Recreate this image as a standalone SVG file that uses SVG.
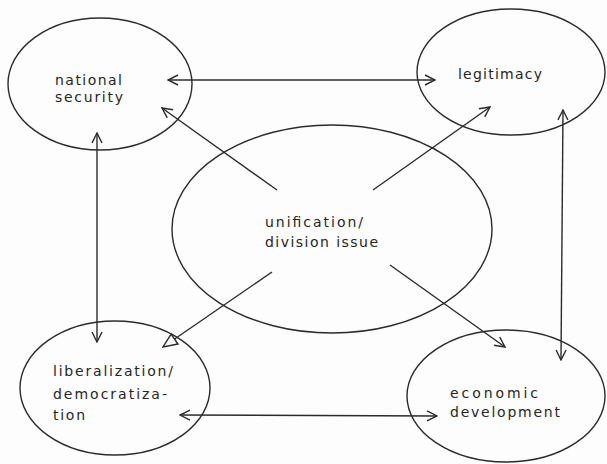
<svg xmlns="http://www.w3.org/2000/svg" width="607" height="464" viewBox="0 0 607 464">
  <style>
    .node ellipse { fill: none; stroke: #2b2b2b; stroke-width: 1.4; }
    .node text { font-family: "DejaVu Sans", "Liberation Sans", sans-serif; font-size: 14px; fill: #262626; }
    .conn { fill: none; stroke: #2b2b2b; stroke-width: 1.4; }
  </style>
  <defs>
    <marker id="open" viewBox="0 0 12 12" refX="11" refY="6" markerWidth="12" markerHeight="12" markerUnits="userSpaceOnUse" orient="auto-start-reverse">
      <path d="M1,1 L11,6 L1,11" fill="none" stroke="#2b2b2b" stroke-width="1.4"/>
    </marker>
    <marker id="tri" viewBox="0 0 16 14" refX="15" refY="7" markerWidth="16" markerHeight="14" markerUnits="userSpaceOnUse" orient="auto">
      <path d="M1,1 L15,7 L1,13 Z" fill="#fff" stroke="#2b2b2b" stroke-width="1.4"/>
    </marker>
  </defs>
  <rect x="0" y="0" width="607" height="464" fill="#fdfdfd"/>

  <g id="connectors">
    <line class="conn" x1="168" y1="80" x2="435" y2="80" marker-start="url(#open)" marker-end="url(#open)"/>
    <line class="conn" x1="97" y1="133" x2="97" y2="342" marker-start="url(#open)" marker-end="url(#open)"/>
    <line class="conn" x1="563" y1="110" x2="561" y2="360" marker-start="url(#open)" marker-end="url(#open)"/>
    <line class="conn" x1="180" y1="415" x2="437" y2="416" marker-start="url(#open)" marker-end="url(#open)"/>
    <line class="conn" x1="277" y1="190" x2="162" y2="108" marker-end="url(#open)"/>
    <line class="conn" x1="373" y1="190" x2="490" y2="107" marker-end="url(#open)"/>
    <line class="conn" x1="272" y1="272" x2="163" y2="347" marker-end="url(#tri)"/>
    <line class="conn" x1="390" y1="265" x2="505" y2="347" marker-end="url(#open)"/>
  </g>

  <g id="national-security" class="node">
    <ellipse cx="100" cy="84" rx="92" ry="66"/>
    <text x="55" y="85" textLength="67" lengthAdjust="spacing">national</text>
    <text x="55" y="102" textLength="68" lengthAdjust="spacing">security</text>
  </g>

  <g id="legitimacy" class="node">
    <ellipse cx="511" cy="72" rx="94" ry="63"/>
    <text x="458" y="79" textLength="84" lengthAdjust="spacing">legitimacy</text>
  </g>

  <g id="unification" class="node">
    <ellipse cx="332" cy="229" rx="160" ry="104"/>
    <text x="265" y="227" textLength="98" lengthAdjust="spacing">unification/</text>
    <text x="265" y="247" textLength="113" lengthAdjust="spacing">division issue</text>
  </g>

  <g id="liberalization" class="node">
    <ellipse cx="115" cy="388" rx="95" ry="67"/>
    <text x="53" y="376" textLength="120" lengthAdjust="spacing">liberalization/</text>
    <text x="53" y="399" textLength="114" lengthAdjust="spacing">democratiza-</text>
    <text x="53" y="420" textLength="32" lengthAdjust="spacing">tion</text>
  </g>

  <g id="economic-development" class="node">
    <ellipse cx="506" cy="396" rx="99" ry="66"/>
    <text x="450" y="398" textLength="88" lengthAdjust="spacing">economic</text>
    <text x="450" y="417" textLength="110" lengthAdjust="spacing">development</text>
  </g>
</svg>
